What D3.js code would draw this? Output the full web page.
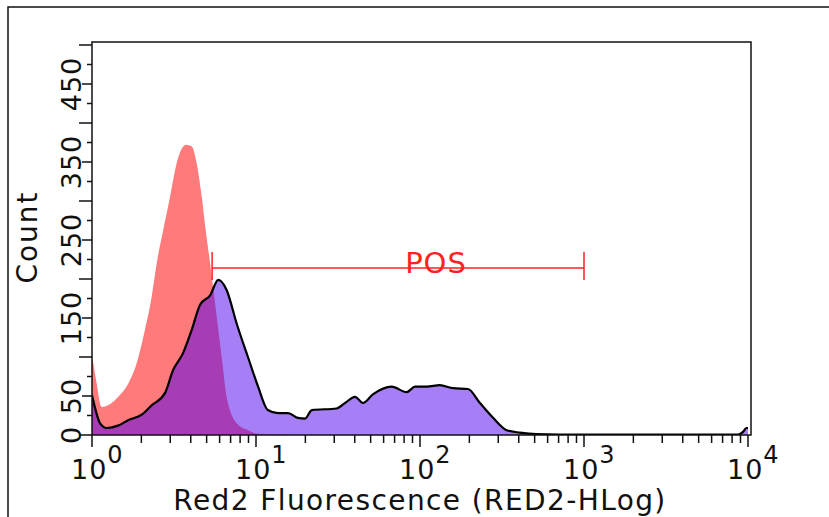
<!DOCTYPE html>
<html>
<head>
<meta charset="utf-8">
<script src="https://cdn.jsdelivr.net/npm/d3@7"></script>
<style>
  body { margin: 0; background: #fff; }
  text { font-family: "DejaVu Sans", Verdana, sans-serif; }
</style>
</head>
<body>
<div id="chart"></div>
<script>
// control sample (red) - fluorescence value and count
const redX = [1.00, 1.06, 1.146, 1.30, 1.446, 1.665, 1.873, 2.104, 2.31, 2.48, 2.72, 2.99, 3.28, 3.60, 3.74, 4.06, 4.35, 4.67, 4.93, 5.25, 5.57, 5.89, 6.24, 6.62, 7.04, 7.62, 8.97, 10, 12.6, 20, 10000];
const redY = [103, 70, 36, 40, 49, 66, 92, 135, 177, 220, 263, 305, 348, 370, 372, 370, 348, 305, 263, 220, 177, 135, 92, 49, 28, 15, 6, 2, 0.5, 0, 0];

// stained sample (purple)
const purpleX = [1.00, 1.04, 1.12, 1.23, 1.44, 1.66, 2.01, 2.31, 2.79, 3.12, 3.59, 4.06, 4.56, 5.25, 5.89, 6.62, 7.62, 8.93, 10.3, 11.8, 13.6, 15.7, 18.0, 19.9, 21.9, 31.0, 34.9, 40.2, 44.9, 51.6, 67.1, 83.0, 93.3, 110, 132, 159, 196, 232, 279, 338, 407, 513, 708, 8710, 9330, 9770, 10000];
const purpleY = [51, 36, 15, 9, 12, 19, 26, 38, 54, 83, 105, 135, 167, 179, 199, 186, 143, 100, 62, 32, 28, 28, 22, 21, 32, 34, 41, 49, 41, 52, 62, 55, 62, 62, 64, 60, 59, 41, 22, 6, 3, 1, 0.5, 0.5, 4, 9, 9];

const xTickValues = [1, 10, 100, 1000, 10000];
const xTickExponents = ["0", "1", "2", "3", "4"];
const yTickLabels = [0, 50, 150, 250, 350, 450];
const gateRange = [5.4, 1000];
const gateName = "POS";

const width = 829, height = 517;
const pLeft = 92, pRight = 751, pTop = 42, pBottom = 435;

const svg = d3.select("#chart").append("svg")
  .attr("width", width)
  .attr("height", height);

// outer frame
svg.append("path")
  .attr("d", `M8,${height} L8,7 L${width},7`)
  .attr("fill", "none")
  .attr("stroke", "#111")
  .attr("stroke-width", 1.5);

const x = d3.scaleLog().domain([1, 10000]).range([pLeft, 748]);
const y = d3.scaleLinear().domain([0, 500]).range([pBottom, 45]);

svg.append("defs").append("clipPath").attr("id", "plot")
  .append("rect").attr("x", pLeft).attr("y", pTop)
  .attr("width", pRight - pLeft).attr("height", pBottom - pTop);

const area = d3.area()
  .x(d => x(d[0]))
  .y0(y(0))
  .y1(d => y(d[1]))
  .curve(d3.curveMonotoneX);
const line = d3.line()
  .x(d => x(d[0]))
  .y(d => y(d[1]))
  .curve(d3.curveMonotoneX);

const red = redX.map((v, i) => [v, redY[i]]);
const purple = purpleX.map((v, i) => [v, purpleY[i]]);

const g = svg.append("g").attr("clip-path", "url(#plot)");
g.append("path").datum(red)
  .attr("d", area)
  .attr("fill", "rgb(255,122,122)");
g.append("path").datum(purple)
  .attr("d", area)
  .attr("fill", "rgb(77,0,238)")
  .attr("fill-opacity", 0.5);
g.append("path").datum(purple)
  .attr("d", line)
  .attr("fill", "none")
  .attr("stroke", "#000")
  .attr("stroke-width", 2.2);

// plot frame
svg.append("rect")
  .attr("x", pLeft).attr("y", pTop)
  .attr("width", pRight - pLeft).attr("height", pBottom - pTop)
  .attr("fill", "none")
  .attr("stroke", "#111")
  .attr("stroke-width", 1.5);

// y ticks every 25
const yt = svg.append("g");
d3.range(0, 501, 25).forEach(v => {
  const len = v % 100 === 0 ? 13 : v % 50 === 0 ? 10 : 5;
  yt.append("line")
    .attr("x1", pLeft - len).attr("x2", pLeft)
    .attr("y1", y(v)).attr("y2", y(v))
    .attr("stroke", "#111").attr("stroke-width", 1.5);
});
yTickLabels.forEach(v => {
  yt.append("text")
    .attr("transform", `translate(81,${y(v)}) rotate(-90)`)
    .attr("text-anchor", "middle")
    .attr("font-size", 27)
    .attr("letter-spacing", 1)
    .attr("fill", "#111")
    .text(v);
});

// x ticks (log decades + minors)
const xt = svg.append("g");
xTickValues.forEach((v, i) => {
  xt.append("line")
    .attr("x1", x(v)).attr("x2", x(v))
    .attr("y1", pBottom).attr("y2", pBottom + 12)
    .attr("stroke", "#111").attr("stroke-width", 1.5);
  if (i < xTickValues.length - 1) {
    d3.range(2, 10).forEach(m => {
      xt.append("line")
        .attr("x1", x(v * m)).attr("x2", x(v * m))
        .attr("y1", pBottom).attr("y2", pBottom + 8)
        .attr("stroke", "#111").attr("stroke-width", 1.5);
    });
  }
  const t = xt.append("text")
    .attr("x", x(v) - 21).attr("y", 479)
    .attr("font-size", 27)
    .attr("letter-spacing", 1)
    .attr("fill", "#111");
  t.append("tspan").text("10");
  t.append("tspan").attr("dy", -16).attr("font-size", 24).text(xTickExponents[i]);
});

// axis titles
svg.append("text")
  .attr("transform", "translate(37,237) rotate(-90)")
  .attr("text-anchor", "middle")
  .attr("font-size", 28)
  .attr("letter-spacing", 2)
  .attr("fill", "#111")
  .text("Count");
svg.append("text")
  .attr("x", 420).attr("y", 510)
  .attr("text-anchor", "middle")
  .attr("font-size", 28)
  .attr("letter-spacing", 1.4)
  .attr("fill", "#111")
  .text("Red2 Fluorescence (RED2-HLog)");

// gate
const gate = svg.append("g").attr("stroke", "#f22").attr("stroke-width", 1.5);
const gy = 268;
gate.append("line").attr("x1", x(gateRange[0])).attr("x2", x(gateRange[1])).attr("y1", gy).attr("y2", gy);
gate.append("line").attr("x1", x(gateRange[0])).attr("x2", x(gateRange[0])).attr("y1", gy - 16).attr("y2", gy + 12);
gate.append("line").attr("x1", x(gateRange[1])).attr("x2", x(gateRange[1])).attr("y1", gy - 16).attr("y2", gy + 12);
svg.append("text")
  .attr("x", 436)
  .attr("y", 273)
  .attr("text-anchor", "middle")
  .attr("font-size", 29)
  .attr("letter-spacing", 1)
  .attr("fill", "#f22")
  .text(gateName);
</script>
</body>
</html>
